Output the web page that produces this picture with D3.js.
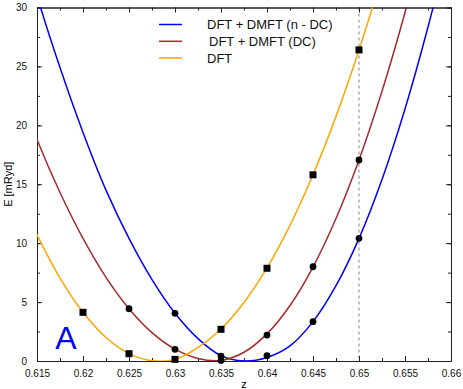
<!DOCTYPE html>
<html>
<head>
<meta charset="utf-8">
<script src="https://cdn.jsdelivr.net/npm/d3@7"></script>
<style>
  body { margin: 0; background: #fff; }
  text { font-family: "Liberation Sans", Arial, sans-serif; }
</style>
</head>
<body>
<svg id="chart" width="463" height="389"></svg>
<script>
// axes
const xTicks = [0.615, 0.62, 0.625, 0.63, 0.635, 0.64, 0.645, 0.65, 0.655, 0.66];
const xTickLabels = ["0.615", "0.62", "0.625", "0.63", "0.635", "0.64", "0.645", "0.65", "0.655", "0.66"];
const yTicks = [0, 5, 10, 15, 20, 25, 30];
const yTickLabels = ["0", "5", "10", "15", "20", "25", "30"];

// legend
const seriesNames = ["DFT + DMFT (n - DC)", "DFT + DMFT (DC)", "DFT"];

// calculated points
const ndcZ = [0.63, 0.635, 0.64, 0.645, 0.65];
const ndcE = [4.05, 0.42, 0.45, 3.34, 10.41];
const dcZ = [0.625, 0.63, 0.635, 0.64, 0.645, 0.65];
const dcE = [4.44, 0.99, 0.05, 2.2, 8.0, 17.06];
const dftZ = [0.62, 0.625, 0.63, 0.635, 0.64, 0.645, 0.65];
const dftE = [4.13, 0.62, 0.14, 2.69, 7.87, 15.8, 26.4];

// fitted curves
const curveZ = [0.6125, 0.615, 0.6175, 0.62, 0.6225, 0.625, 0.6275, 0.63, 0.6325, 0.635,
  0.6375, 0.64, 0.6425, 0.645, 0.6475, 0.65, 0.6525, 0.655, 0.6575, 0.66];
const ndcCurveE = [38.2, 31.0, 24.9, 19.4, 14.5, 10.4, 6.9, 4.05, 1.9, 0.45,
  0.0, 0.3, 1.28, 3.34, 6.39, 10.41, 15.41, 21.39, 28.34, 36.2];
const dcCurveE = [24.0, 18.8, 14.3, 10.4, 7.1, 4.44, 2.41, 1.0, 0.21, 0.05,
  0.74, 2.3, 4.71, 7.97, 12.09, 17.06, 22.89, 29.57, 37.1, 45.0];
const dftCurveE = [14.8, 10.7, 7.03, 4.13, 1.99, 0.62, 0.02, 0.14, 1.14, 2.71,
  4.97, 7.9, 11.51, 15.8, 20.76, 26.4, 32.7, 39.6, 47.0, 55.0];

const markerZ = 0.65;

const svg = d3.select("#chart");
const margin = { left: 37, top: 7.5, right: 12, bottom: 28 };
const W = 463, H = 389;
const x = d3.scaleLinear().domain([0.615, 0.66]).range([margin.left, W - margin.right]);
const y = d3.scaleLinear().domain([0, 30]).range([H - margin.bottom, margin.top]);

svg.append("clipPath").attr("id", "clip")
  .append("rect")
  .attr("x", x(0.615)).attr("y", y(30))
  .attr("width", x(0.66) - x(0.615)).attr("height", y(0) - y(30));

// dashed marker line
svg.append("line")
  .attr("x1", x(markerZ)).attr("x2", x(markerZ))
  .attr("y1", y(30)).attr("y2", y(0))
  .attr("stroke", "#666").attr("stroke-width", 0.8)
  .attr("stroke-dasharray", "3,3");

const xMinor = d3.range(0, 19).map(i => 0.615 + i * 0.0025);
const yMinor = d3.range(0, 13).map(i => i * 2.5);

function axisStyle(g) {
  g.select(".domain").attr("stroke", "#222");
  g.selectAll(".tick line").attr("stroke", "#222");
  g.selectAll("text").attr("font-size", 10).attr("fill", "#111")
    .attr("font-family", "Liberation Sans, Arial, sans-serif");
}

// minor ticks on all sides
[[d3.axisBottom(x), y(0)], [d3.axisTop(x), y(30)]].forEach(([ax, pos]) => {
  svg.append("g").attr("transform", `translate(0,${pos})`)
    .call(ax.tickValues(xMinor).tickSize(-3).tickFormat(""))
    .call(axisStyle);
});
[[d3.axisLeft(y), x(0.615)], [d3.axisRight(y), x(0.66)]].forEach(([ax, pos]) => {
  svg.append("g").attr("transform", `translate(${pos},0)`)
    .call(ax.tickValues(yMinor).tickSize(-3).tickFormat(""))
    .call(axisStyle);
});

// major ticks
svg.append("g").attr("transform", `translate(0,${y(0)})`)
  .call(d3.axisBottom(x).tickValues(xTicks).tickSizeInner(-5).tickSizeOuter(0)
    .tickPadding(9).tickFormat((d, i) => xTickLabels[i]))
  .call(axisStyle);
svg.append("g").attr("transform", `translate(0,${y(30)})`)
  .call(d3.axisTop(x).tickValues(xTicks).tickSizeInner(-5).tickSizeOuter(0).tickFormat(""))
  .call(axisStyle);
svg.append("g").attr("transform", `translate(${x(0.615)},0)`)
  .call(d3.axisLeft(y).tickValues(yTicks).tickSizeInner(-5).tickSizeOuter(0)
    .tickPadding(10).tickFormat((d, i) => yTickLabels[i]))
  .call(axisStyle);
svg.append("g").attr("transform", `translate(${x(0.66)},0)`)
  .call(d3.axisRight(y).tickValues(yTicks).tickSizeInner(-5).tickSizeOuter(0).tickFormat(""))
  .call(axisStyle);

// axis titles
svg.append("text").attr("x", (x(0.615) + x(0.66)) / 2).attr("y", 388)
  .attr("text-anchor", "middle").attr("font-size", 11).text("z");
svg.append("text")
  .attr("transform", `translate(12,${(y(0) + y(30)) / 2}) rotate(-90)`)
  .attr("text-anchor", "middle").attr("font-size", 11).text("E [mRyd]");

// curves
const line = d3.line().x(d => x(d[0])).y(d => y(d[1])).curve(d3.curveCatmullRom.alpha(0.5));
const curves = [
  { e: ndcCurveE, color: "#0000ff" },
  { e: dcCurveE, color: "#a52a2a" },
  { e: dftCurveE, color: "#ffa500" }
];
const plot = svg.append("g").attr("clip-path", "url(#clip)");
curves.forEach(c => {
  plot.append("path")
    .datum(curveZ.map((z, i) => [z, c.e[i]]))
    .attr("fill", "none").attr("stroke", c.color).attr("stroke-width", 1.5)
    .attr("d", line);
});

// markers
const pts = svg.append("g");
pts.append("g").selectAll("rect").data(dftZ.map((z, i) => [z, dftE[i]])).join("rect")
  .attr("x", d => x(d[0]) - 3.5).attr("y", d => y(d[1]) - 3.5)
  .attr("width", 7).attr("height", 7).attr("fill", "#000");
pts.append("g").selectAll("circle").data(dcZ.map((z, i) => [z, dcE[i]])).join("circle")
  .attr("cx", d => x(d[0])).attr("cy", d => y(d[1])).attr("r", 3.4).attr("fill", "#000");
pts.append("g").selectAll("circle").data(ndcZ.map((z, i) => [z, ndcE[i]])).join("circle")
  .attr("cx", d => x(d[0])).attr("cy", d => y(d[1])).attr("r", 3.4).attr("fill", "#000");

// legend
const legend = svg.append("g");
const legendY = [24.5, 41.3, 58];
const legendTextX = [207, 209, 207];
seriesNames.forEach((name, i) => {
  legend.append("line")
    .attr("x1", 159).attr("x2", 182).attr("y1", legendY[i]).attr("y2", legendY[i])
    .attr("stroke", curves[i].color).attr("stroke-width", 1.5);
  legend.append("text")
    .attr("x", legendTextX[i]).attr("y", legendY[i]).attr("dy", "0.35em")
    .attr("font-size", 13).attr("fill", "#111").text(name);
});

// panel letter
svg.append("text").attr("x", 66).attr("y", 349).attr("text-anchor", "middle")
  .attr("font-size", 32).attr("fill", "#0000ff").text("A");
</script>
</body>
</html>
